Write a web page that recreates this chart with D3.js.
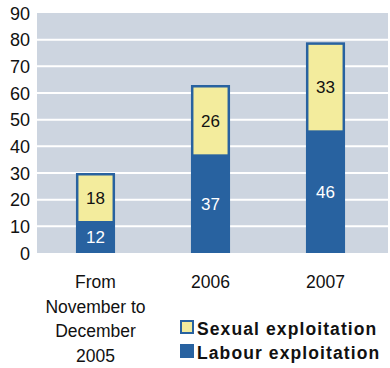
<!DOCTYPE html>
<html><head><meta charset="utf-8">
<script src="https://cdn.jsdelivr.net/npm/d3@7"></script>
<style>body{margin:0;background:#fff}svg{display:block}</style>
</head><body>
<script>
const categories = ["From November to December 2005", "2006", "2007"];
const categoryLines = [["From","November to","December","2005"],["2006"],["2007"]];
const labour = [12, 37, 46];
const sexual = [18, 26, 33];
const yTicks = [0,10,20,30,40,50,60,70,80,90];
const seriesNames = ["Sexual exploitation", "Labour exploitation"];

const W=390,H=368;
const blue="#2862a0", yellow="#f3ec9d", bg="#cdd5e0";
const svg=d3.select("body").append("svg").attr("width",W).attr("height",H);
const font="'Liberation Sans', Arial, sans-serif";
const y=d3.scaleLinear().domain([0,90]).range([253,13]);
const x=d3.scaleBand().domain(categories).range([38,383]).paddingInner(0.66).paddingOuter(0.33);

svg.append("rect").attr("x",37).attr("y",y(90)).attr("width",388-37).attr("height",y(0)-y(90)).attr("fill",bg);
svg.append("g").selectAll("line").data(yTicks.filter(d=>d>0&&d<90)).join("line")
 .attr("x1",37).attr("x2",388).attr("y1",d=>y(d)).attr("y2",d=>y(d)).attr("stroke","#fff").attr("stroke-width",2);

const yAxis=d3.axisLeft(y).tickValues(yTicks).tickSize(0).tickPadding(0);
const ga=svg.append("g").attr("transform","translate(30,0)").call(yAxis);
ga.select(".domain").remove();
ga.selectAll("text").attr("font-family",font).attr("font-size",18).attr("fill","#111").attr("dy","0.35em");

const bw=x.bandwidth();
const b=2.5;
categories.forEach((c,i)=>{
  const x0=x(c), tot=labour[i]+sexual[i];
  svg.append("rect").attr("x",x0).attr("y",y(tot)).attr("width",bw).attr("height",y(0)-y(tot)).attr("fill",blue);
  svg.append("rect").attr("x",x0+b).attr("y",y(tot)+b).attr("width",bw-2*b).attr("height",y(labour[i])-y(tot)-b).attr("fill",yellow);
  svg.append("text").attr("x",x0+bw/2).attr("y",(y(tot)+y(labour[i]))/2+1).attr("dy","0.35em")
    .attr("text-anchor","middle").attr("font-family",font).attr("font-size",17).attr("fill","#111").text(sexual[i]);
  svg.append("text").attr("x",x0+bw/2).attr("y",(y(labour[i])+y(0))/2).attr("dy","0.35em")
    .attr("text-anchor","middle").attr("font-family",font).attr("font-size",17).attr("fill","#fff").text(labour[i]);
  const t=svg.append("text").attr("text-anchor","middle").attr("font-family",font).attr("font-size",17.5).attr("fill","#111");
  categoryLines[i].forEach((l,j)=>t.append("tspan").attr("x",x0+bw/2).attr("y",288+j*24.5).text(l));
});

const leg=[{n:seriesNames[0],y:320,fill:yellow},{n:seriesNames[1],y:344,fill:blue}];
leg.forEach(d=>{
  svg.append("rect").attr("x",181).attr("y",d.y+1).attr("width",12).attr("height",12).attr("fill",d.fill).attr("stroke",blue).attr("stroke-width",2);
  svg.append("text").attr("x",197).attr("y",d.y+14.5).attr("font-family",font).attr("font-weight","bold").attr("font-size",17.5)
   .attr("letter-spacing",1.1).attr("fill","#111").text(d.n);
});
</script>
</body></html>
